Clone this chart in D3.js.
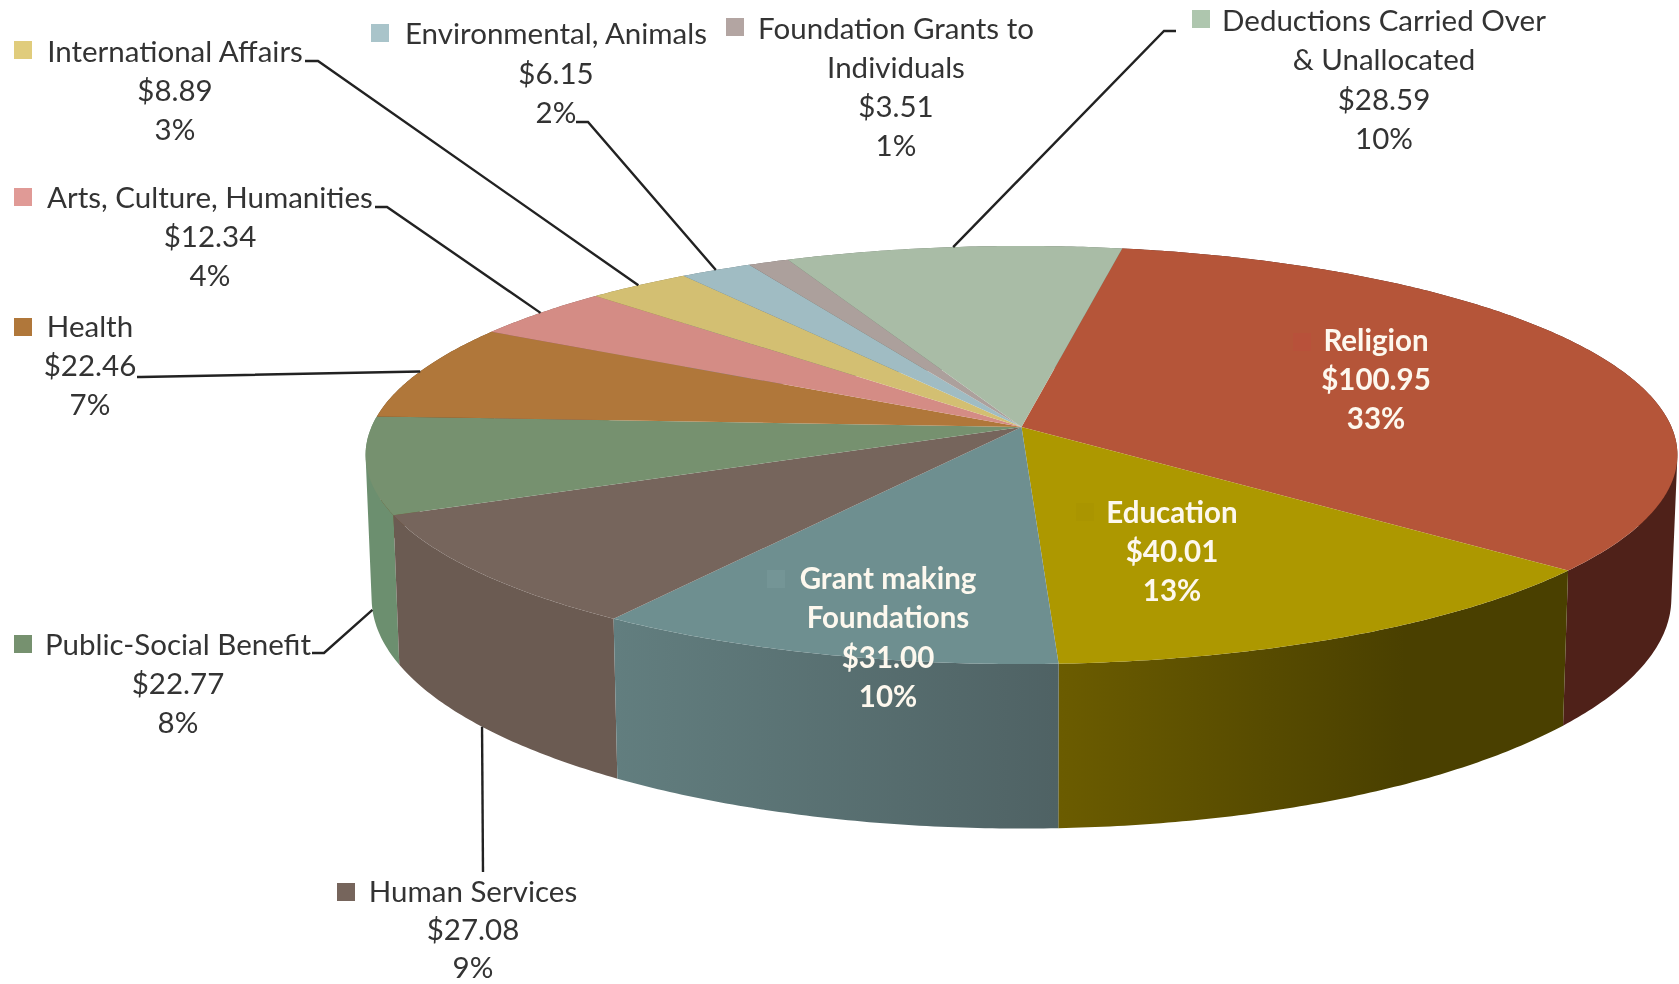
<!DOCTYPE html>
<html>
<head>
<meta charset="utf-8">
<script src="https://cdnjs.cloudflare.com/ajax/libs/d3/7.8.5/d3.min.js"></script>
<style>
  body { margin: 0; background: #fff; }
  svg { filter: blur(0.6px); }
  text { font-family: Lato, "Open Sans", sans-serif; font-size: 29.5px; fill: #333; text-anchor: middle; }
  text.inside { font-weight: 700; fill: #fdf8ee; }
</style>
</head>
<body>
<div id="chart"></div>
<script>
// Chart values, clockwise from the Religion slice
var categories = ["Religion", "Education", "Grant making Foundations", "Human Services", "Public-Social Benefit", "Health", "Arts, Culture, Humanities", "International Affairs", "Environmental, Animals", "Foundation Grants to Individuals", "Deductions Carried Over & Unallocated"];
var amounts = [100.95, 40.01, 31.00, 27.08, 22.77, 22.46, 12.34, 8.89, 6.15, 3.51, 28.59];
var percents = ["33%", "13%", "10%", "9%", "8%", "7%", "4%", "3%", "2%", "1%", "10%"];
var nameLines = [["Religion"], ["Education"], ["Grant making", "Foundations"], ["Human Services"], ["Public-Social Benefit"], ["Health"], ["Arts, Culture, Humanities"], ["International Affairs"], ["Environmental, Animals"], ["Foundation Grants to", "Individuals"], ["Deductions Carried Over", "& Unallocated"]];

// Colours
var topColors = ["#b55539", "#ad9800", "#6e8f90", "#76655c", "#76916f", "#b0773a", "#d48c85", "#d3bf72", "#a0bcc3", "#aca09c", "#a9bca6"];
var wallColors = [["#4f2119", "#4f2119"], ["#6b5c00", "#4a4000"], ["#627e7f", "#4f6264"], ["#6b5b52", "#6b5b52"], ["#6c8f6f", "#6c8f6f"], ["#6e4a24", "#6e4a24"], ["#855852", "#855852"], ["#847747", "#847747"], ["#64767a", "#64767a"], ["#6c6462", "#6c6462"], ["#6a7668", "#6a7668"]];
var keyColors = ["#b8513a", "#aa9500", "#749596", "#76655c", "#76916f", "#b0773a", "#e09a96", "#e0cc7c", "#a9c4ca", "#b3a5a2", "#aec6ae"];

var svgWidth = 1679;
var svgHeight = 984;

var svg = d3.select("#chart")
    .append("svg")
    .attr("width", svgWidth)
    .attr("height", svgHeight);

var defs = svg.append("defs");

// Perspective of the disc. Both rings share the same tilt, the bottom one is a bit smaller.
var tilt = 0.1339;
var topRing = { cx: 1021.5, cy: 427, rx: 650, ry: 205.3 };
var bottomRing = { cx: 1021.5, cy: 567.6, rx: 644, ry: 226 };

function project(ring, angle) {
    var u = Math.sin(angle);
    var v = -Math.cos(angle);
    var w = 1 - tilt * v;
    return [ring.cx + ring.rx * u / w, ring.cy + ring.ry * v / w];
}

function arcPoints(ring, a0, a1) {
    var n = Math.max(2, Math.ceil((a1 - a0) / 0.01));
    return d3.range(n + 1).map(function (i) {
        return project(ring, a0 + (a1 - a0) * i / n);
    });
}

var pie = d3.pie()
    .sort(null)
    .startAngle(10.1 * Math.PI / 180)
    .endAngle((10.1 + 360) * Math.PI / 180);

var slices = pie(amounts);
var line = d3.line();

// side walls, the ones furthest back first
var wallOrder = slices.slice().sort(function (a, b) {
    return project(topRing, (a.startAngle + a.endAngle) / 2)[1] - project(topRing, (b.startAngle + b.endAngle) / 2)[1];
});

wallOrder.forEach(function (d) {
    var upper = arcPoints(topRing, d.startAngle, d.endAngle);
    var lower = arcPoints(bottomRing, d.startAngle, d.endAngle);
    var xs = d3.extent(upper, function (p) { return p[0]; });
    var gradId = "wall" + d.index;

    // Education reaches its darkest colour before the right end of the slice
    var grad = defs.append("linearGradient")
        .attr("id", gradId)
        .attr("gradientUnits", "userSpaceOnUse")
        .attr("x1", xs[0])
        .attr("x2", d.index === 1 ? xs[0] + (xs[1] - xs[0]) * 0.68 : xs[1])
        .attr("y1", 0)
        .attr("y2", 0);
    grad.append("stop").attr("offset", 0).attr("stop-color", wallColors[d.index][0]);
    grad.append("stop").attr("offset", 1).attr("stop-color", wallColors[d.index][1]);

    // built from thin quads so the straight edge between the rings at far left and right gets filled.
    // all quads wound the same way, otherwise the overlaps at the fold cancel out
    var quads = d3.range(upper.length - 1).map(function (i) {
        var quad = [upper[i], upper[i + 1], lower[i + 1], lower[i]];
        if (d3.polygonArea(quad) < 0) quad.reverse();
        return line(quad) + "Z";
    }).join("");

    svg.append("path")
        .attr("d", quads)
        .attr("fill", "url(#" + gradId + ")");
});

// top face
svg.append("g")
    .selectAll("path")
    .data(slices)
    .enter()
    .append("path")
    .attr("d", function (d) {
        return line([[topRing.cx, topRing.cy]].concat(arcPoints(topRing, d.startAngle, d.endAngle))) + "Z";
    })
    .attr("fill", function (d) { return topColors[d.index]; });

// Leader lines: [slice index, ring the line ends on, points from the label towards the slice]
var leaders = [
    [3, bottomRing, [[483, 872]]],
    [4, bottomRing, [[312, 653], [324, 653]]],
    [5, topRing, [[137, 377], [141, 377]]],
    [6, topRing, [[375, 207], [387, 207]]],
    [7, topRing, [[305, 61], [318, 61]]],
    [8, topRing, [[576, 122], [588, 122]]],
    [10, topRing, [[1176, 31], [1164, 31]]]
];

svg.append("g")
    .selectAll("path")
    .data(leaders)
    .enter()
    .append("path")
    .attr("d", function (l) {
        var d = slices[l[0]];
        return line(l[2].concat([project(l[1], (d.startAngle + d.endAngle) / 2)]));
    })
    .attr("fill", "none")
    .attr("stroke", "#222")
    .attr("stroke-width", 2.4);

// Label layout per slice: centre x, first baseline, line step, legend key x, key y
var labelLayout = [
    [1376, 351, 39, 1293, 333],
    [1172, 523, 39, 1076, 503],
    [888, 589, 39.3, 767, 570],
    [473, 902, 38, 337, 883],
    [178, 655, 39.2, 14, 635],
    [90, 337, 39.2, 14, 318],
    [210, 208, 39.2, 14, 188],
    [175, 62, 39.2, 14, 41],
    [556, 44, 39.5, 371, 24],
    [896, 39, 39, 726, 18],
    [1384, 31, 39.3, 1192, 10]
];

var amountFormat = d3.format(".2f");

slices.forEach(function (d) {
    var i = d.index;
    var pos = labelLayout[i];
    var rows = nameLines[i].concat(["$" + amountFormat(amounts[i]), percents[i]]);

    svg.append("rect")
        .attr("x", pos[3])
        .attr("y", pos[4])
        .attr("width", 18)
        .attr("height", 18)
        .attr("fill", keyColors[i]);

    svg.append("g")
        .selectAll("text")
        .data(rows)
        .enter()
        .append("text")
        .attr("class", i < 3 ? "inside" : null)
        .attr("x", pos[0])
        .attr("y", function (r, j) { return pos[1] + j * pos[2]; })
        .text(function (r) { return r; });
});
</script>
</body>
</html>
